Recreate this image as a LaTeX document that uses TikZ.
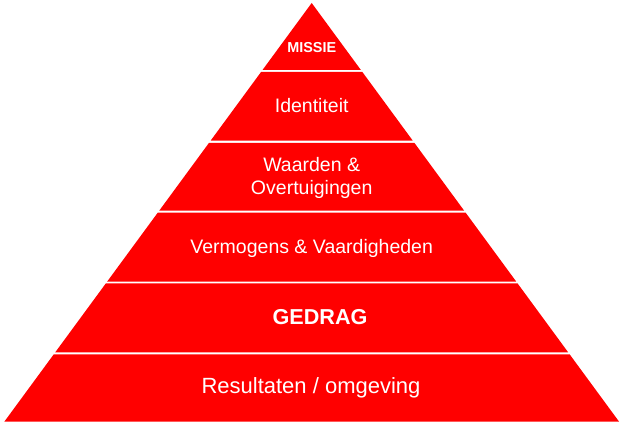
\documentclass[tikz,border=0pt]{standalone}
\usepackage{fontspec}
\setmainfont{Liberation Sans}
\usetikzlibrary{calc,positioning}

\begin{document}
\begin{tikzpicture}[x=1pt,y=-1pt]
	% We can specify options for the tikz picture using the tikzset command
	\tikzset{
		laag/.style={fill=red, draw=none}, % every layer of the pyramid is plain red
		laagtekst/.style={text=white, inner sep=0pt, anchor=base, align=center, font=\fontsize{19.5}{22.6}\selectfont}, % white text on the layers
		vet/.style={font=\bfseries\fontsize{21.6}{25}\selectfont}, % bold text
	}
	% The page is as large as the reference
	\useasboundingbox (0,0) rectangle (624,425);
	% Apex and the two corners of the base
	\coordinate (top) at (311.7,3);
	\coordinate (links) at (4.3,421.7);
	\coordinate (rechts) at (619.1,421.7);
	% Each layer runs between two fractions of the height, with a thin white gap between them
	\foreach \a/\b in {0/0.1600, 0.1648/0.3284, 0.3339/0.4961, 0.5008/0.6652, 0.6699/0.8343, 0.8390/1}
		\fill[laag] ($(top)!\a!(links)$) -- ($(top)!\b!(links)$) -- ($(top)!\b!(rechts)$) -- ($(top)!\a!(rechts)$) -- cycle;
	% The texts of the layers, from the top down (a text of two lines stands on its last line)
	\node[laagtekst, font=\bfseries\fontsize{14.4}{17}\selectfont] (missie) at (311.7,52.7) {MISSIE};
	\node[laagtekst] (identiteit) at (311.7,112.7) {Identiteit};
	\node[laagtekst] (waarden) at (311.7,194.3) {Waarden \&\\Overtuigingen};
	\node[laagtekst] (vermogens) at (311.7,253.3) {Vermogens \& Vaardigheden};
	\node[laagtekst, vet] (gedrag) at (320,324.3) {GEDRAG};
	\node[laagtekst, font=\fontsize{22}{26}\selectfont] (resultaten) at (311,393.3) {Resultaten / omgeving};
\end{tikzpicture}
\end{document}
